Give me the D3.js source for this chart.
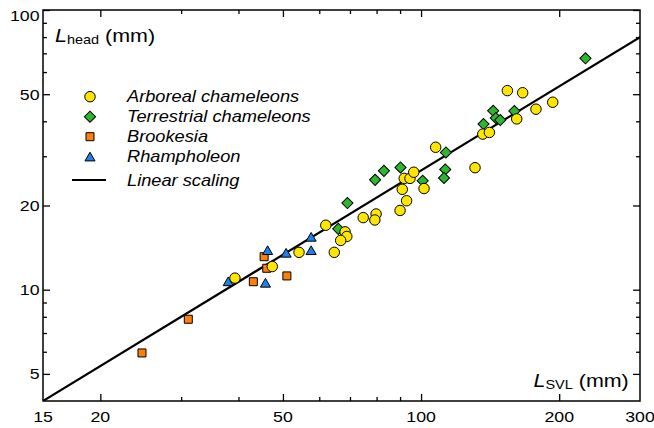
<!DOCTYPE html>
<html><head><meta charset="utf-8">
<script src="https://cdn.jsdelivr.net/npm/d3@7"></script>
<style>
body{margin:0;background:#fff}
svg{display:block}
text{font-family:"Liberation Sans",Arial,Helvetica,sans-serif;fill:#000}
</style>
</head><body>
<svg id="chart" width="654" height="428"></svg>
<script>
// ---- data (SVL and head length, mm) ----
const arborealSVL  = [39.3, 47.4, 54.2, 62.0, 68.3, 68.9, 66.8, 64.7, 74.8, 79.8, 79.3, 90.0, 93.0, 91.0, 91.9, 94.6, 96.4, 101.5, 107.6, 131.1, 136.3, 140.9, 154.2, 166.5, 161.6, 178.0, 193.6];
const arborealHead = [11.0, 12.1, 13.6, 17.0, 16.1, 15.5, 15.0, 13.6, 18.1, 18.65, 17.75, 19.2, 20.8, 22.85, 25.0, 25.0, 26.3, 23.0, 32.3, 27.3, 36.0, 36.5, 51.5, 50.6, 40.8, 44.2, 46.8];
const terrestrialSVL  = [66.0, 69.1, 79.4, 83.0, 90.2, 100.8, 113.3, 112.9, 112.2, 136.8, 143.6, 145.5, 148.8, 159.7, 228.2];
const terrestrialHead = [16.5, 20.4, 24.7, 26.6, 27.35, 24.5, 30.95, 26.9, 25.1, 39.1, 43.6, 41.1, 40.4, 43.5, 67.2];
const brookesiaSVL  = [24.65, 31.1, 43.1, 45.5, 46.1, 51.0];
const brookesiaHead = [5.94, 7.84, 10.68, 13.12, 11.93, 11.2];
const rhampholeonSVL  = [38.0, 46.3, 45.8, 50.8, 57.6, 57.6];
const rhampholeonHead = [10.59, 13.68, 10.46, 13.39, 15.27, 13.68];
const scalingCoef = 0.2667;      // Lhead = k * Lsvl
const scalingRange = [15, 300];

const legendLabels = ["Arboreal chameleons", "Terrestrial chameleons", "Brookesia", "Rhampholeon", "Linear scaling"];

const xDomain = [15, 300], yDomain = [4, 100];
const xMajorTicks = [20, 50, 100, 200];
const xMinorTicks = [30, 40, 60, 70, 80, 90];
const xTickLabels = [15, 20, 50, 100, 200, 300];
const yMajorTicks = [5, 10, 20, 50, 100];
const yMinorTicks = [6, 7, 8, 9, 30, 40, 60, 70, 80, 90];
const yTickLabels = [5, 10, 20, 50, 100];

// ---- layout ----
const L = 43, R = 640, T = 10, B = 401;
const SX = 1.16; // horizontal text stretch seen in the reference
const svg = d3.select("#chart");
const x = d3.scaleLog().domain(xDomain).range([L, R]);
const y = d3.scaleLog().domain(yDomain).range([B, T]);

svg.append("defs").append("clipPath").attr("id", "clip")
  .append("rect").attr("x", L).attr("y", T).attr("width", R - L).attr("height", B - T);

// ticks (inside) on all four sides
function ticks(axisFn, vals, len, transform) {
  const g = svg.append("g").attr("transform", transform)
    .call(axisFn.tickValues(vals).tickSize(-len).tickFormat(""));
  g.select(".domain").remove();
  g.selectAll("line").attr("stroke", "#000").attr("stroke-width", 1.3);
}
ticks(d3.axisBottom(x), xMajorTicks, 7, `translate(0,${B})`);
ticks(d3.axisBottom(x), xMinorTicks, 4, `translate(0,${B})`);
ticks(d3.axisTop(x), xMajorTicks, 7, `translate(0,${T})`);
ticks(d3.axisTop(x), xMinorTicks, 4, `translate(0,${T})`);
ticks(d3.axisLeft(y), yMajorTicks, 7, `translate(${L},0)`);
ticks(d3.axisLeft(y), yMinorTicks, 4, `translate(${L},0)`);
ticks(d3.axisRight(y), yMajorTicks, 7, `translate(${R},0)`);
ticks(d3.axisRight(y), yMinorTicks, 4, `translate(${R},0)`);

// tick labels
svg.append("g").selectAll("text").data(xTickLabels).join("text")
  .attr("transform", d => `translate(${x(d)},422) scale(${SX},1)`)
  .attr("text-anchor", "middle").attr("font-size", 15.3).text(d => d);
svg.append("g").selectAll("text").data(yTickLabels).join("text")
  .attr("transform", d => `translate(39.5,${d === 100 ? 20.7 : y(d) + 5.4}) scale(${SX},1)`)
  .attr("text-anchor", "end").attr("font-size", 15.3).text(d => d);

// regression line
svg.append("line").attr("clip-path", "url(#clip)")
  .attr("x1", x(scalingRange[0])).attr("y1", y(scalingCoef * scalingRange[0]))
  .attr("x2", x(scalingRange[1])).attr("y2", y(scalingCoef * scalingRange[1]))
  .attr("stroke", "#000").attr("stroke-width", 2.2);

// markers
const styles = {
  arboreal:    {fill: "#ffe600", sym: d3.symbol().type(d3.symbolCircle).size(86), rot: 0},
  terrestrial: {fill: "#2cb82c", sym: d3.symbol().type(d3.symbolSquare).size(62), rot: 45},
  brookesia:   {fill: "#ff7f0a", sym: d3.symbol().type(d3.symbolSquare).size(64), rot: 0},
  rhampholeon: {fill: "#1f80e6", sym: d3.symbol().type(d3.symbolTriangle).size(44), rot: 0}
};
function drawSeries(xs, ys, st) {
  svg.append("g").selectAll("path").data(xs.map((v, i) => [v, ys[i]])).join("path")
    .attr("d", st.sym())
    .attr("transform", d => `translate(${x(d[0])},${y(d[1])}) rotate(${st.rot})`)
    .attr("fill", st.fill).attr("stroke", "#000").attr("stroke-width", 1);
}
drawSeries(brookesiaSVL, brookesiaHead, styles.brookesia);
drawSeries(rhampholeonSVL, rhampholeonHead, styles.rhampholeon);
drawSeries(terrestrialSVL, terrestrialHead, styles.terrestrial);
drawSeries(arborealSVL, arborealHead, styles.arboreal);

// frame
svg.append("rect").attr("x", L).attr("y", T).attr("width", R - L).attr("height", B - T)
  .attr("fill", "none").attr("stroke", "#000").attr("stroke-width", 1.5);

// axis titles
const tTop = svg.append("text").attr("transform", `translate(55,41.7) scale(${SX},1)`).attr("font-size", 18.5);
tTop.append("tspan").attr("font-style", "italic").text("L");
tTop.append("tspan").attr("font-size", 12.5).attr("dy", 2).text("head");
tTop.append("tspan").attr("dy", -2).text(" (mm)");
const tBot = svg.append("text").attr("transform", `translate(533.5,387.3) scale(${SX},1)`).attr("font-size", 18.5);
tBot.append("tspan").attr("font-style", "italic").text("L");
tBot.append("tspan").attr("font-size", 12.5).attr("dy", 2).text("SVL");
tBot.append("tspan").attr("dy", -2).text(" (mm)");

// legend
const legStyles = [styles.arboreal, styles.terrestrial, styles.brookesia, styles.rhampholeon, null];
const legY = [96.7, 116.7, 136.7, 156.7, 180];
const leg = svg.append("g");
legendLabels.forEach((lab, i) => {
  const st = legStyles[i];
  if (st) {
    leg.append("path").attr("d", st.sym())
      .attr("transform", `translate(90,${legY[i] + (st === styles.rhampholeon ? 1.3 : 0)}) rotate(${st.rot})`)
      .attr("fill", st.fill).attr("stroke", "#000").attr("stroke-width", 1);
  } else {
    leg.append("line").attr("x1", 72).attr("x2", 106).attr("y1", legY[i]).attr("y2", legY[i])
      .attr("stroke", "#000").attr("stroke-width", 2.2);
  }
  leg.append("text").attr("transform", `translate(127,${legY[i] + 5.5}) scale(1.14,1)`)
    .attr("font-size", 16).attr("font-style", "italic").text(lab);
});
</script>
</body></html>
